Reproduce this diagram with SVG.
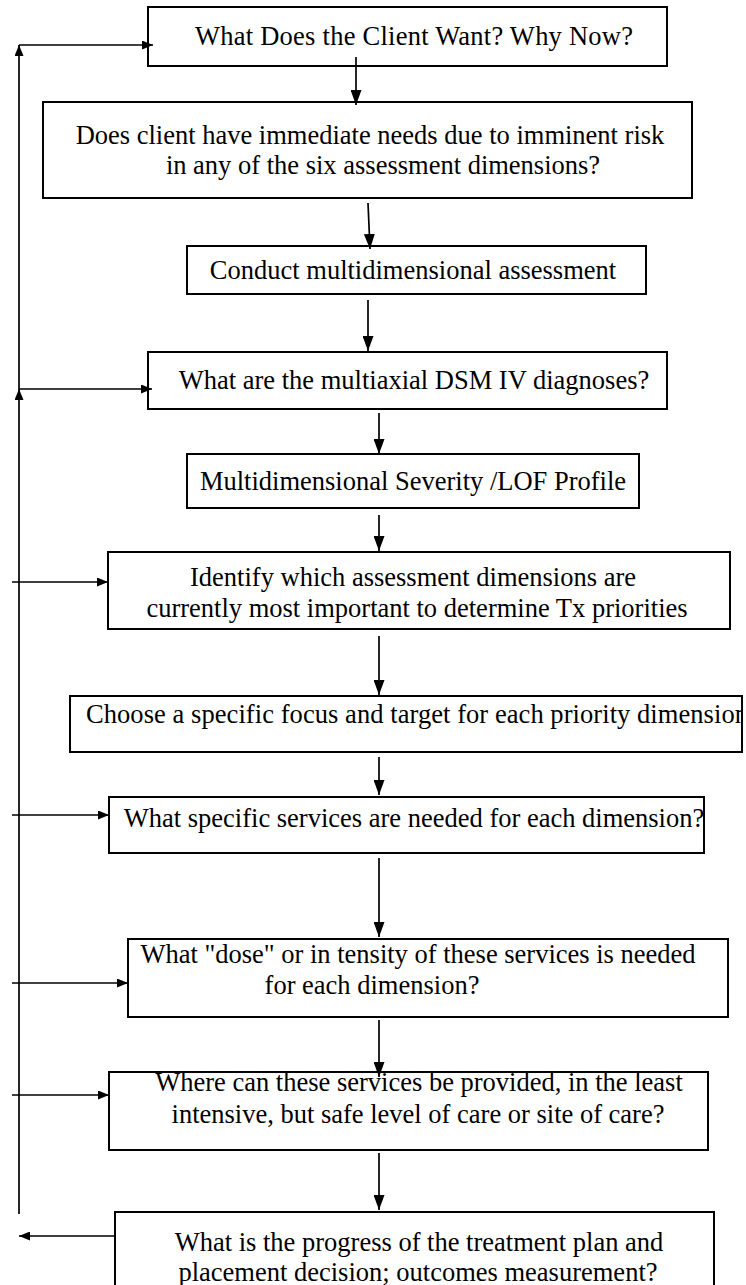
<svg xmlns="http://www.w3.org/2000/svg" width="746" height="1285" viewBox="0 0 746 1285">
<style>
.box{fill:#fff;stroke:#000;stroke-width:2}
.t{font-family:"Liberation Serif","Times New Roman",serif;font-size:26.5px;fill:#000;text-anchor:middle}
.ts{font-family:"Liberation Serif","Times New Roman",serif;font-size:26.5px;fill:#000}
.c{fill:none;stroke:#000;stroke-width:1.7}
</style>
<defs>
<marker id="a" viewBox="0 0 15 11" refX="15" refY="5.5" markerWidth="15" markerHeight="11" orient="auto" markerUnits="userSpaceOnUse"><path d="M0,0 L15,5.5 L0,11 z" fill="#000"/></marker>
<marker id="s" viewBox="0 0 11 9" refX="11" refY="4.5" markerWidth="11" markerHeight="9" orient="auto" markerUnits="userSpaceOnUse"><path d="M0,0 L11,4.5 L0,9 z" fill="#000"/></marker>
<clipPath id="clip7"><rect x="70" y="696" width="672" height="56"/></clipPath>
</defs>
<rect width="746" height="1285" fill="#fff"/>
<g id="n1"><rect class="box" x="148" y="7" width="519" height="59"/><text class="ts" x="195" y="45" textLength="438">What Does the Client Want?  Why Now?</text></g>
<g id="n2"><rect class="box" x="43" y="102" width="649" height="96"/><text class="t" x="370" y="144">Does client have immediate needs due to imminent risk</text><text class="t" x="383" y="174">in any of the six assessment dimensions?</text></g>
<g id="n3"><rect class="box" x="187" y="246" width="459" height="48"/><text class="t" x="413" y="279">Conduct multidimensional assessment</text></g>
<g id="n4"><rect class="box" x="148" y="352" width="519" height="57"/><text class="t" x="414" y="389">What are the multiaxial DSM IV diagnoses?</text></g>
<g id="n5"><rect class="box" x="187" y="454" width="452" height="54"/><text class="t" x="413" y="490">Multidimensional Severity /LOF Profile</text></g>
<g id="n6"><rect class="box" x="108" y="552" width="622" height="77"/><text class="t" x="413" y="586">Identify which assessment dimensions are</text><text class="t" x="417" y="617">currently most important to determine Tx priorities</text></g>
<g id="n7"><rect class="box" x="70" y="696" width="672" height="56"/><text class="ts" x="86" y="723" textLength="662" clip-path="url(#clip7)">Choose a specific focus and target for each priority dimension</text></g>
<g id="n8"><rect class="box" x="109" y="797" width="595" height="56"/><text class="t" x="414" y="827">What specific services are needed for each dimension?</text></g>
<g id="n9"><rect class="box" x="128" y="939" width="600" height="78"/><text class="t" x="418" y="963">What "dose" or in tensity of these services is needed</text><text class="t" x="372" y="994">for each dimension?</text></g>
<g id="n10"><rect class="box" x="109" y="1072" width="599" height="78"/><text class="t" x="419" y="1091">Where can these services be provided, in the least</text><text class="t" x="418" y="1123">intensive, but safe level of care or site of care?</text></g>
<g id="n11"><rect class="box" x="115" y="1212" width="599" height="90"/><text class="t" x="419" y="1251">What is the progress of the treatment plan and</text><text class="t" x="418" y="1281">placement decision; outcomes measurement?</text></g>
<g id="connectors">
<line class="c" x1="356" y1="57" x2="356" y2="105" marker-end="url(#a)"/>
<line class="c" x1="368" y1="203" x2="370" y2="249" marker-end="url(#a)"/>
<line class="c" x1="368" y1="300" x2="368" y2="351" marker-end="url(#a)"/>
<line class="c" x1="379" y1="413" x2="379" y2="454" marker-end="url(#a)"/>
<line class="c" x1="379" y1="515" x2="379" y2="551" marker-end="url(#a)"/>
<line class="c" x1="379" y1="636" x2="379" y2="695" marker-end="url(#a)"/>
<line class="c" x1="379" y1="757" x2="379" y2="795" marker-end="url(#a)"/>
<line class="c" x1="379" y1="858" x2="379" y2="937" marker-end="url(#a)"/>
<line class="c" x1="379" y1="1020" x2="379" y2="1077" marker-end="url(#a)"/>
<line class="c" x1="379" y1="1153" x2="379" y2="1210" marker-end="url(#a)"/>
<line class="c" x1="19" y1="1214" x2="19" y2="389" marker-end="url(#s)"/>
<line class="c" x1="19" y1="389" x2="19" y2="45" marker-end="url(#s)"/>
<line class="c" x1="19" y1="45" x2="153" y2="45" marker-end="url(#s)"/>
<line class="c" x1="19" y1="389" x2="152" y2="389" marker-end="url(#s)"/>
<line class="c" x1="12" y1="582" x2="108" y2="582" marker-end="url(#s)"/>
<line class="c" x1="12" y1="815" x2="109" y2="815" marker-end="url(#s)"/>
<line class="c" x1="12" y1="983" x2="128" y2="983" marker-end="url(#s)"/>
<line class="c" x1="12" y1="1095" x2="109" y2="1095" marker-end="url(#s)"/>
<line class="c" x1="115" y1="1236" x2="19" y2="1236" marker-end="url(#s)"/>
</g>
</svg>
